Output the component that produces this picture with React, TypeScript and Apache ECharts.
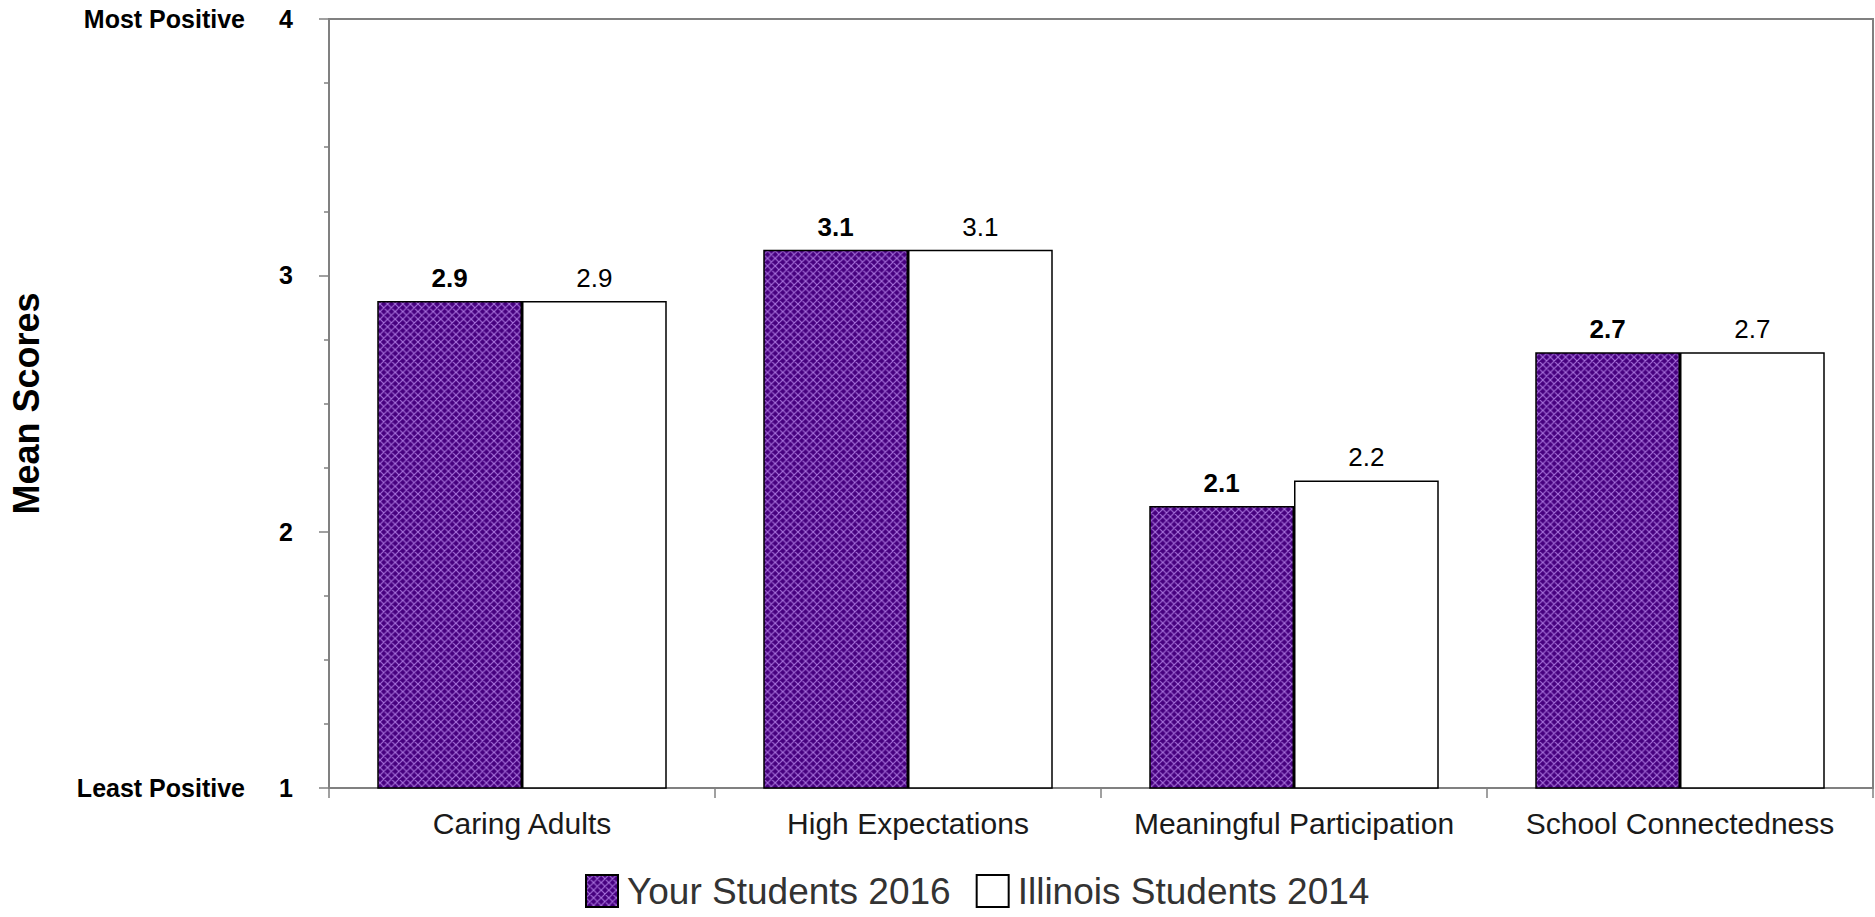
import React, { useEffect, useRef } from "react";
import * as echarts from "echarts";

const categories = ["Caring Adults", "High Expectations", "Meaningful Participation", "School Connectedness"];
const seriesNames = ["Your Students 2016", "Illinois Students 2014"];
const yourStudents = [2.9, 3.1, 2.1, 2.7];
const illinoisStudents = [2.9, 3.1, 2.2, 2.7];
const yTickValues = [1, 2, 3, 4];
const yEndLabels = ["Least Positive", "", "", "Most Positive"];

const tileSvg =
  "<svg xmlns='http://www.w3.org/2000/svg' width='8' height='8' viewBox='0 0 8 8'>" +
  "<rect width='8' height='8' fill='#46007e'/>" +
  "<path d='M0 0L8 8M8 0L0 8M-1 7L1 9M7 -1L9 1M-1 1L1 -1M7 9L9 7' stroke='#a872dc' stroke-width='1.2'/>" +
  "</svg>";
const tileUrl = "data:image/svg+xml;charset=utf-8," + encodeURIComponent(tileSvg);

export default function App() {
  const ref = useRef<HTMLDivElement>(null);
  useEffect(() => {
    if (!ref.current) return;
    const chart = echarts.init(ref.current, null, { renderer: "svg" });
    const pattern: any = { image: tileUrl, repeat: "repeat", imageWidth: 7.6, imageHeight: 7.6 };
    const font = "'Liberation Sans', Arial, sans-serif";
    chart.setOption({
      animation: false,
      backgroundColor: "#ffffff",
      textStyle: { fontFamily: font },
      grid: {
        left: 328,
        right: 2,
        top: 19,
        bottom: 129,
        show: true,
        borderColor: "#808080",
        borderWidth: 2,
        backgroundColor: "transparent",
      },
      legend: {
        left: 585,
        top: 872,
        padding: 0,
        itemWidth: 32,
        itemHeight: 32,
        itemGap: 25,
        icon: "rect",
        data: seriesNames,
        textStyle: { fontSize: 37, lineHeight: 36, color: "#333333", fontFamily: font, padding: [2, 0, 0, 4] },
      },
      xAxis: {
        type: "category",
        data: categories,
        axisLine: { lineStyle: { color: "#808080", width: 2 } },
        axisTick: { show: true, length: 10, lineStyle: { color: "#808080", width: 1.5 } },
        axisLabel: { interval: 0, fontSize: 30, color: "#1a1a1a", margin: 20, fontFamily: font },
      },
      yAxis: {
        type: "value",
        min: 1,
        max: 4,
        interval: 1,
        name: "Mean Scores",
        nameLocation: "middle",
        nameRotate: 90,
        nameGap: 285,
        nameTextStyle: { fontSize: 36, fontWeight: "bold", color: "#000000", fontFamily: font },
        axisLine: { show: true, lineStyle: { color: "#808080", width: 2 } },
        axisTick: { show: true, length: 10, lineStyle: { color: "#808080", width: 1.5 } },
        minorTick: { show: true, splitNumber: 4, length: 5, lineStyle: { color: "#808080", width: 1.5 } },
        splitLine: { show: false },
        axisLabel: {
          margin: 36,
          formatter: (v: number) => {
            const i = yTickValues.indexOf(v);
            const name = i >= 0 ? yEndLabels[i] : "";
            return name ? `{d|${name}}{n|${v}}` : `{n|${v}}`;
          },
          rich: {
            d: { fontSize: 25, fontWeight: "bold", color: "#000000", fontFamily: font },
            n: { fontSize: 25, fontWeight: "bold", color: "#000000", fontFamily: font, width: 48, align: "right" },
          },
        },
      },
      series: [
        {
          name: seriesNames[0],
          type: "bar",
          data: yourStudents,
          barGap: "0%",
          barCategoryGap: "25%",
          itemStyle: { color: pattern, borderColor: "#000000", borderWidth: 1.5 },
          label: {
            show: true,
            position: "top",
            distance: 10,
            fontSize: 26,
            fontWeight: "bold",
            color: "#000000",
            fontFamily: font,
            formatter: (p: any) => p.value.toFixed(1),
          },
        },
        {
          name: seriesNames[1],
          type: "bar",
          data: illinoisStudents,
          barGap: "0%",
          barCategoryGap: "25%",
          itemStyle: { color: "#ffffff", borderColor: "#000000", borderWidth: 1.5 },
          label: {
            show: true,
            position: "top",
            distance: 10,
            fontSize: 26,
            color: "#000000",
            fontFamily: font,
            formatter: (p: any) => p.value.toFixed(1),
          },
        },
      ],
    });
    return () => chart.dispose();
  }, []);
  return (
    <div
      ref={ref}
      style={{ position: "fixed", left: 0, top: 0, width: 1875, height: 917, background: "#ffffff" }}
    />
  );
}
